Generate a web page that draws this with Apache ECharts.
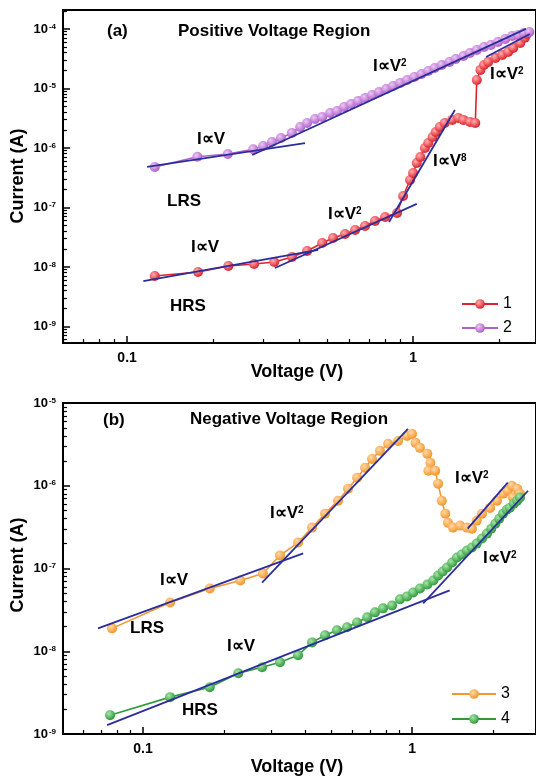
<!DOCTYPE html>
<html lang="en">
<head>
<meta charset="UTF-8">
<title>I-V curves</title>
<script src="https://cdn.jsdelivr.net/npm/echarts@6/dist/echarts.min.js"></script>
<style>
    html, body { margin: 0; padding: 0; background: #fff; }
    #chart { width: 536px; height: 777px; }
</style>
</head>
<body>
<div id="chart"></div>
<script>
// panel (a): positive voltage, curve 1 (red) and curve 2 (purple)
var v1 = [0.125,0.177,0.226,0.278,0.327,0.377,0.426,0.481,0.525,0.578,0.627,0.679,0.736,0.798,0.879,0.923,0.976,1.00,1.03,1.06,1.10,1.13,1.17,1.20,1.24,1.29,1.37,1.44,1.50,1.58,1.65,1.67,1.72,1.77,1.83,1.94,2.05,2.15,2.24,2.37,2.46,2.50];
var i1 = [7.06e-9,8.24e-9,1.04e-8,1.12e-8,1.21e-8,1.47e-8,1.86e-8,2.53e-8,3.07e-8,3.59e-8,4.19e-8,4.89e-8,5.93e-8,6.92e-8,8.09e-8,1.56e-7,2.90e-7,3.8e-7,5.6e-7,7.06e-7,1.0e-6,1.21e-6,1.53e-6,1.86e-6,2.25e-6,2.63e-6,2.96e-6,3.19e-6,2.96e-6,2.74e-6,2.63e-6,1.39e-5,2.05e-5,2.48e-5,2.79e-5,3.26e-5,3.66e-5,4.1e-5,4.8e-5,5.8e-5,7.1e-5,8.2e-5];
var v2 = [0.125,0.176,0.225,0.276,0.299,0.321,0.345,0.377,0.403,0.426,0.454,0.481,0.513,0.542,0.574,0.607,0.642,0.679,0.719,0.760,0.805,0.851,0.901,0.953,1.01,1.07,1.13,1.19,1.26,1.34,1.41,1.50,1.58,1.67,1.77,1.87,1.98,2.10,2.22,2.33,2.44,2.55];
var i2 = [4.8e-7,7.1e-7,7.9e-7,9.5e-7,1.08e-6,1.26e-6,1.47e-6,1.79e-6,2.25e-6,2.63e-6,3.07e-6,3.32e-6,3.87e-6,4.19e-6,4.89e-6,5.48e-6,6.16e-6,6.92e-6,7.78e-6,8.73e-6,9.81e-6,1.10e-5,1.24e-5,1.39e-5,1.56e-5,1.75e-5,1.97e-5,2.21e-5,2.48e-5,2.79e-5,3.13e-5,3.52e-5,3.95e-5,4.44e-5,4.98e-5,5.38e-5,6.05e-5,6.79e-5,7.62e-5,7.93e-5,8.57e-5,8.9e-5];

// panel (b): negative voltage (magnitude), curve 3 (orange) and curve 4 (green)
var v3 = [0.0767,0.126,0.177,0.230,0.279,0.323,0.377,0.425,0.475,0.531,0.578,0.625,0.669,0.710,0.760,0.815,0.887,0.958,1.00,1.03,1.07,1.14,1.17,1.15,1.22,1.25,1.29,1.33,1.36,1.42,1.51,1.60,1.67,1.74,1.82,1.95,2.07,2.18,2.27,2.35,2.46,2.37,2.52];
var i3 = [1.89e-8,3.89e-8,5.74e-8,7.17e-8,8.7e-8,1.44e-7,2.06e-7,3.12e-7,4.6e-7,6.6e-7,9.2e-7,1.25e-6,1.65e-6,2.11e-6,2.64e-6,3.21e-6,3.48e-6,4.0e-6,4.23e-6,3.30e-6,2.87e-6,2.43e-6,1.89e-6,1.52e-6,1.52e-6,1.06e-6,6.6e-7,4.6e-7,3.58e-7,3.12e-7,3.3e-7,3.12e-7,3.03e-7,3.79e-7,4.6e-7,5.4e-7,6.6e-7,8.0e-7,8.7e-7,1.0e-6,9.2e-7,7.2e-7,8.0e-7];
var v4 = [0.0754,0.126,0.177,0.226,0.277,0.323,0.377,0.425,0.475,0.526,0.573,0.625,0.681,0.728,0.780,0.843,0.902,0.958,1.01,1.07,1.14,1.20,1.25,1.30,1.35,1.41,1.47,1.53,1.60,1.67,1.74,1.82,1.90,1.97,2.04,2.11,2.18,2.25,2.31,2.39,2.46,2.52];
var i4 = [1.69e-9,2.79e-9,3.68e-9,5.43e-9,6.41e-9,7.36e-9,8.95e-9,1.28e-8,1.56e-8,1.79e-8,1.95e-8,2.23e-8,2.57e-8,2.95e-8,3.30e-8,3.58e-8,4.24e-8,4.6e-8,5.14e-8,5.74e-8,6.41e-8,7.17e-8,8.24e-8,9.2e-8,1.03e-7,1.18e-7,1.36e-7,1.48e-7,1.65e-7,1.79e-7,2.0e-7,2.30e-7,2.64e-7,3.03e-7,3.48e-7,4.0e-7,4.6e-7,5.14e-7,5.43e-7,6.07e-7,6.6e-7,7.2e-7];

// power-law guide lines, [start, end] as [V, I]
var fitA = [
    [[0.1175,4.8e-7],[0.419,1.21e-6]],
    [[0.274,7.62e-7],[2.48,1.0e-4]],
    [[0.114,5.8e-9],[0.466,1.93e-8]],
    [[0.329,9.6e-9],[1.03,1.15e-7]],
    [[0.824,5.7e-8],[1.40,4.35e-6]],
    [[1.80,3.38e-5],[2.56,8.2e-5]]
];
var fitB = [
    [[0.068,1.89e-8],[0.394,1.52e-7]],
    [[0.277,6.77e-8],[0.966,4.86e-6]],
    [[1.61,3.03e-7],[2.27,1.09e-6]],
    [[0.0735,1.28e-9],[1.38,5.43e-8]],
    [[1.10,3.78e-8],[2.70,8.7e-7]]
];

// tick labels
var xLabels = [0.1, 1];
var yLabelsA = [1e-9, 1e-8, 1e-7, 1e-6, 1e-5, 1e-4];
var yLabelsB = [1e-9, 1e-8, 1e-7, 1e-6, 1e-5];

var FONT = '"Liberation Sans", Arial, sans-serif';
var FIT = '#2b2d9e';

function pts(xs, ys) {
    return xs.map(function (x, i) { return [x, ys[i]]; });
}
function ball(light, dark) {
    return {type: 'radial', x: 0.38, y: 0.35, r: 0.65,
        colorStops: [{offset: 0, color: light}, {offset: 1, color: dark}]};
}
function minors(lo, hi) {
    var out = [];
    for (var e = Math.floor(Math.log10(lo)); e <= Math.ceil(Math.log10(hi)); e++) {
        for (var k = 2; k <= 9; k++) {
            var v = k * Math.pow(10, e);
            if (v > lo * 1.001 && v < hi * 0.999) out.push(v);
        }
    }
    return out;
}

function xAxes(g, min, max) {
    return [{
        type: 'log', gridIndex: g, min: min, max: max, position: 'bottom',
        axisLine: {lineStyle: {color: '#000', width: 2}},
        axisTick: {inside: true, length: 7, customValues: xLabels, lineStyle: {color: '#000', width: 1.5}},
        axisLabel: {customValues: xLabels, color: '#000', fontSize: 14, fontWeight: 'bold', fontFamily: FONT, margin: 8,
            formatter: function (v) { return String(+(+v).toPrecision(2)); }},
        splitLine: {show: false}
    }, {
        type: 'log', gridIndex: g, min: min, max: max, position: 'bottom',
        axisLine: {show: false},
        axisTick: {inside: true, length: 4, customValues: minors(min, max), lineStyle: {color: '#000', width: 1.2}},
        axisLabel: {show: false},
        splitLine: {show: false}
    }];
}
function yAxes(g, min, max, labels) {
    return [{
        type: 'log', gridIndex: g, min: min, max: max, position: 'left',
        axisLine: {lineStyle: {color: '#000', width: 2}},
        axisTick: {inside: true, length: 7, customValues: labels, lineStyle: {color: '#000', width: 1.5}},
        axisLabel: {customValues: labels, margin: 7,
            formatter: function (v) { return '{b|10}{s|' + Math.round(Math.log10(v)) + '}'; },
            rich: {
                b: {fontSize: 13, fontWeight: 'bold', color: '#000', fontFamily: FONT},
                s: {fontSize: 8, fontWeight: 'bold', color: '#000', fontFamily: FONT, verticalAlign: 'top', padding: [0, 0, 0, 1]}
            }},
        splitLine: {show: false}
    }, {
        type: 'log', gridIndex: g, min: min, max: max, position: 'left',
        axisLine: {show: false},
        axisTick: {inside: true, length: 4, customValues: minors(min, max), lineStyle: {color: '#000', width: 1.2}},
        axisLabel: {show: false},
        splitLine: {show: false}
    }];
}

function dataSeries(name, xa, ya, data, color, light) {
    return {
        name: name, type: 'line', xAxisIndex: xa, yAxisIndex: ya, data: data,
        symbol: 'circle', symbolSize: 10, z: 3,
        lineStyle: {color: color, width: 1.6},
        itemStyle: {color: ball(light, color)}
    };
}
function fitSeries(lines, xa, ya) {
    return lines.map(function (seg) {
        return {type: 'line', xAxisIndex: xa, yAxisIndex: ya, data: seg, symbol: 'none', silent: true, z: 4,
            lineStyle: {color: FIT, width: 1.8}};
    });
}

function label(text, x, y, sup) {
    var rich = {
        m: {fontSize: 17, fontWeight: 'bold', fontFamily: FONT, fill: '#000'},
        s: {fontSize: 10, fontWeight: 'bold', fontFamily: FONT, fill: '#000', verticalAlign: 'top'}
    };
    var str = '{m|' + text + '}' + (sup ? '{s|' + sup + '}' : '');
    return {type: 'text', left: x, top: y - 10, z: 10,
        style: {text: str, rich: rich, fill: '#000'}};
}
function axisTitle(text, x, y, rot) {
    return {type: 'text', x: x, y: y, rotation: rot || 0, z: 10,
        style: {text: text, fill: '#000', align: 'center', verticalAlign: 'middle',
            font: 'bold 18px ' + FONT}};
}

var series = [
    dataSeries('1', 0, 0, pts(v1, i1), '#e0202a', '#ffb0b0'),
    dataSeries('2', 0, 0, pts(v2, i2), '#b060c8', '#ecc8f6'),
    dataSeries('3', 2, 2, pts(v3, i3), '#f3962c', '#ffd9a8'),
    dataSeries('4', 2, 2, pts(v4, i4), '#2e9a3a', '#a8e6a8')
].concat(fitSeries(fitA, 0, 0), fitSeries(fitB, 2, 2));

var chart = echarts.init(document.getElementById('chart'));
chart.setOption({
    animation: false,
    backgroundColor: '#fff',
    grid: [
        {left: 63, top: 10, width: 473, height: 333, show: true, borderColor: '#000', borderWidth: 2},
        {left: 63, top: 403, width: 473, height: 331, show: true, borderColor: '#000', borderWidth: 2}
    ],
    xAxis: xAxes(0, 0.0597, 2.69).concat(xAxes(1, 0.0504, 2.89)),
    yAxis: yAxes(0, 5.28e-10, 2.08e-4, yLabelsA).concat(yAxes(1, 1e-9, 1e-5, yLabelsB)),
    legend: [
        {data: ['1', '2'], left: 456, top: 291, orient: 'vertical', itemWidth: 36, itemHeight: 12, itemGap: 8,
            textStyle: {fontSize: 16, color: '#000', fontFamily: FONT}},
        {data: ['3', '4'], left: 446, top: 681, orient: 'vertical', itemWidth: 44, itemHeight: 12, itemGap: 9,
            textStyle: {fontSize: 16, color: '#000', fontFamily: FONT}}
    ],
    series: series,
    graphic: [
        label('(a)', 107, 33),
        label('Positive Voltage Region', 178, 33),
        label('I\u221DV', 197, 141),
        label('I\u221DV', 373, 68, '2'),
        label('I\u221DV', 490, 76, '2'),
        label('I\u221DV', 433, 163, '8'),
        label('LRS', 167, 203),
        label('I\u221DV', 328, 216, '2'),
        label('I\u221DV', 191, 249),
        label('HRS', 170, 308),
        label('(b)', 103, 422),
        label('Negative Voltage Region', 190, 421),
        label('I\u221DV', 270, 515, '2'),
        label('I\u221DV', 455, 480, '2'),
        label('I\u221DV', 483, 560, '2'),
        label('I\u221DV', 160, 582),
        label('LRS', 130, 630),
        label('I\u221DV', 227, 648),
        label('HRS', 182, 712),
        axisTitle('Voltage (V)', 297, 372),
        axisTitle('Voltage (V)', 297, 767),
        axisTitle('Current (A)', 18, 176, Math.PI / 2),
        axisTitle('Current (A)', 18, 565, Math.PI / 2)
    ]
});
</script>
</body>
</html>
